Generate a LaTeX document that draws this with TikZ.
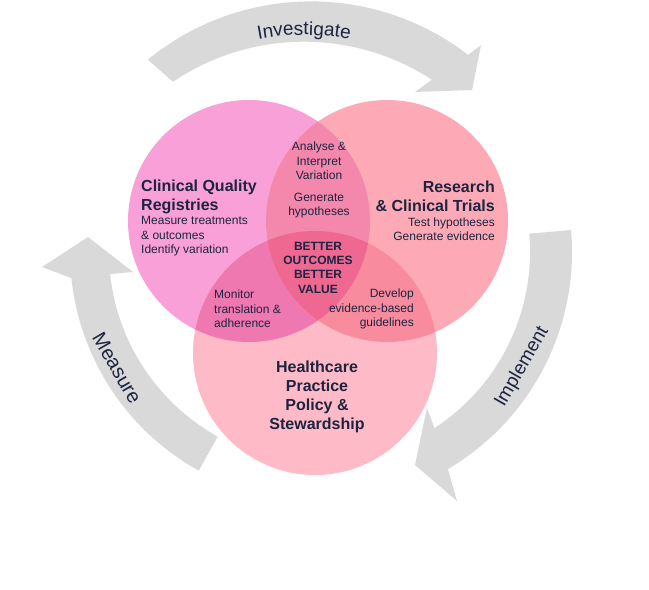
\documentclass[tikz,border=0pt]{standalone}
\usepackage{fontspec}
\setmainfont{Liberation Sans}
\usetikzlibrary{calc,decorations.text}
\definecolor{navy}{RGB}{28,36,64}
\definecolor{arrowgray}{RGB}{217,217,217}
\definecolor{cL}{RGB}{249,160,216}
\definecolor{cR}{RGB}{253,170,182}
\definecolor{cB}{RGB}{255,186,200}
\definecolor{cLR}{RGB}{244,136,172}
\definecolor{cLB}{RGB}{240,120,176}
\definecolor{cRB}{RGB}{248,140,158}
\definecolor{cLRB}{RGB}{238,104,146}
\begin{document}
\begin{tikzpicture}[x=1pt,y=1pt,
  title/.style={font=\fontsize{16}{19}\selectfont\bfseries, text=navy, inner sep=0pt},
  small/.style={font=\fontsize{12}{14.5}\selectfont, text=navy, inner sep=0pt},
  core/.style={font=\fontsize{12}{14.3}\selectfont\bfseries, text=navy, inner sep=0pt, align=center},
  cyclearrow/.style={fill=arrowgray, draw=none},
  arrowlabel/.style={font=\fontsize{19}{19}\selectfont, text=navy, inner sep=0pt}]
\useasboundingbox (0,0) rectangle (649,590);
\fill[white] (0,0) rectangle (649,590);
\coordinate (L) at (249,369);
\coordinate (R) at (387,369);
\coordinate (B) at (315,237);
\coordinate (C) at (320,338);
\coordinate (Co) at (311,331);
\coordinate (Ci) at (304,314);
% cycle arrows
\fill[cyclearrow] ($(Co)+(129.3:257.6pt)$) arc[start angle=129.3,end angle=52.4,radius=257.6pt] -- (481,545) -- (472,500) -- (415,498) -- ($(Ci)+(56.9:234.3pt)$) arc[start angle=56.9,end angle=124,radius=234.3pt] -- cycle;
\fill[cyclearrow] ($(C)+(5:252pt)$) arc[start angle=5,end angle=-59.5,radius=252pt] -- (457,89) -- (415,125) -- (427,182) -- ($(C)+(-57:210pt)$) arc[start angle=-57,end angle=5,radius=210pt] -- cycle;
\fill[cyclearrow] ($(C)+(241:250pt)$) arc[start angle=241,end angle=186,radius=250pt] -- (42,323) -- (88,353) -- (133,318) -- ($(C)+(186:211pt)$) arc[start angle=186,end angle=241,radius=211pt] -- cycle;
% circles
\fill[cL] (L) circle[radius=121pt];
\fill[cR] (R) circle[radius=121pt];
\fill[cB] (B) circle[radius=122pt];
\begin{scope}
  \clip (L) circle[radius=121pt];
  \fill[cLR] (R) circle[radius=121pt];
  \fill[cLB] (B) circle[radius=122pt];
\end{scope}
\begin{scope}
  \clip (R) circle[radius=121pt];
  \fill[cRB] (B) circle[radius=122pt];
  \clip (L) circle[radius=121pt];
  \fill[cLRB] (B) circle[radius=122pt];
\end{scope}
% texts
\node[title, anchor=west, align=left] (cqrT) at (141,393.5) {Clinical Quality\\Registries};
\node[small, anchor=west, align=left] (cqrS) at (141,353.5) {Measure treatments\\\& outcomes\\Identify variation};
\node[title, anchor=east, align=right] (rctT) at (495,393.5) {Research\\\& Clinical Trials};
\node[small, anchor=east, align=right] (rctS) at (495,361) {Test hypotheses\\Generate evidence};
\node[small, align=center] (anl) at (319,429) {Analyse \&\\Interpret\\Variation};
\node[small, align=center] (gen) at (319,384.5) {Generate\\hypotheses};
\node[core] (core) at (318,322.5) {BETTER\\OUTCOMES\\BETTER\\VALUE};
\node[small, anchor=west, align=left] (mon) at (214,281) {Monitor\\translation \&\\adherence};
\node[small, anchor=east, align=right] (dev) at (414,281) {Develop\\evidence-based\\guidelines};
\node[title, align=center] (hpp) at (317,193.5) {Healthcare\\Practice\\Policy \&\\Stewardship};
\node[arrowlabel, rotate=-60, font=\fontsize{20}{20}\selectfont] (meas) at (117,222) {Measure};
\node[arrowlabel, rotate=60] (impl) at (522,223) {Implement};
\path[decorate, decoration={text along path, text align=center, text color=navy,
  text={|\fontsize{19}{19}\selectfont|Investigate}}]
  ($(Ci)+(120:241pt)$) arc[start angle=120,end angle=60,radius=241pt];
\end{tikzpicture}
\end{document}
